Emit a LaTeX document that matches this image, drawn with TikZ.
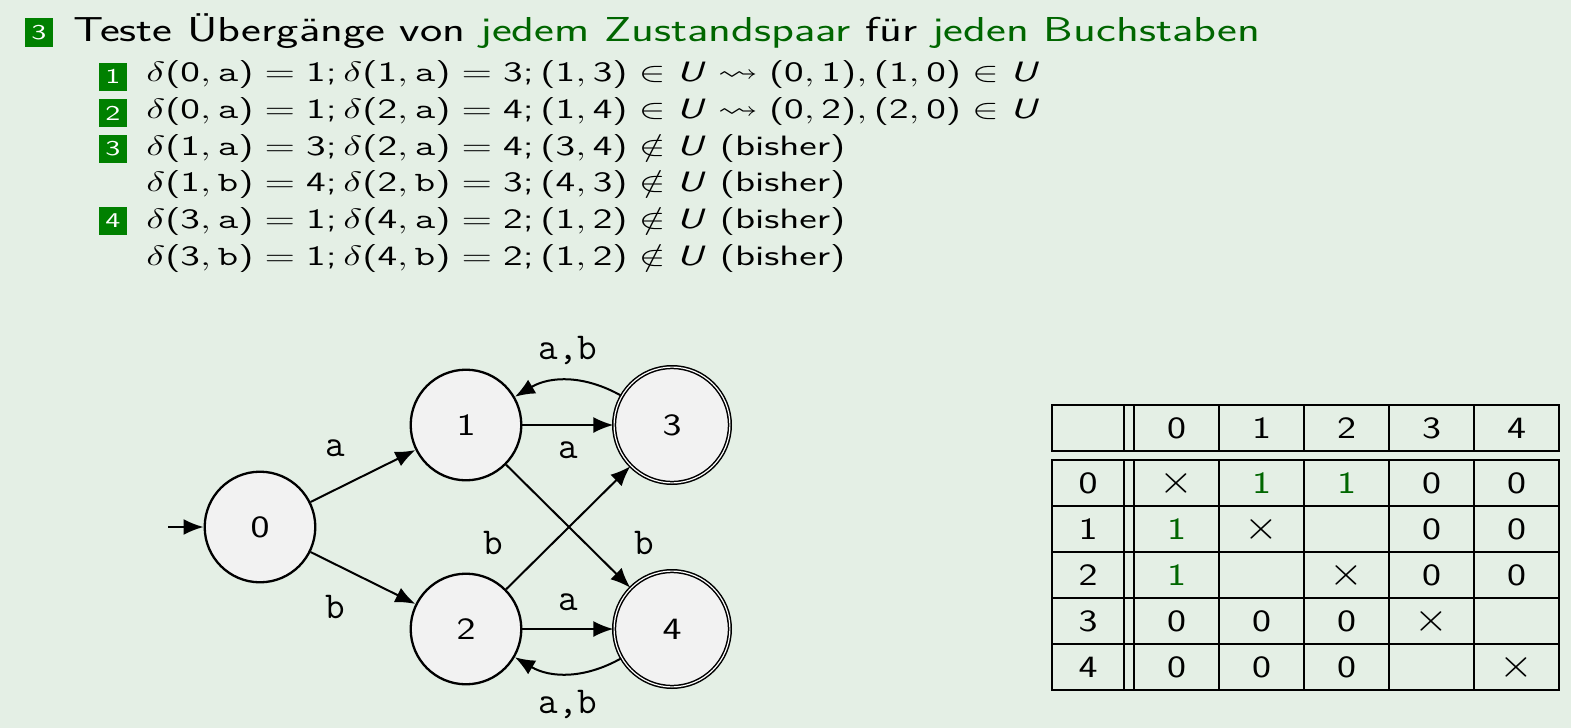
\RequirePackage{fix-cm}
\documentclass[tikz,border=0pt]{standalone}
\usepackage{amsmath,amssymb}
\usepackage{graphicx}
\usepackage{xcolor}
\usepackage{tikz}
\usetikzlibrary{arrows.meta}

\renewcommand{\familydefault}{\sfdefault}
\DeclareSymbolFont{operators}{OT1}{cmss}{m}{n}
\SetSymbolFont{operators}{bold}{OT1}{cmss}{bx}{n}
\DeclareMathAlphabet{\mathsfit}{OT1}{cmss}{m}{sl}
\newcommand{\setU}{\mathsfit{U}}
\newcommand{\chA}{\mathtt{a}}
\newcommand{\chB}{\mathtt{b}}
\newcommand{\breit}[1]{\scalebox{1.43}[1]{#1}}
\newcommand{\ziff}[1]{\scalebox{1.3}[1]{#1}}
\newcommand{\kreuz}{\scalebox{1.4}[1.3]{$\times$}}

\definecolor{hinter}{RGB}{228,239,229}
\definecolor{dgruen}{RGB}{0,102,0}
\definecolor{kasten}{RGB}{0,128,0}
\definecolor{zfill}{RGB}{242,242,242}

\begin{document}
\begin{tikzpicture}[x=0.5pt,y=-0.5pt,
    zustand/.style={circle,draw,line width=1.15pt,fill=zfill,minimum size=55.3pt,inner sep=0pt,
      font=\fontsize{15.5}{18}\selectfont},
    endzustand/.style={zustand,line width=0.75pt,double=white,double distance=0.6pt,minimum size=57.9pt},
    kante/.style={-{Latex[length=10pt,width=8pt]},line width=1pt},
    beschr/.style={font=\ttfamily\fontsize{19}{22}\selectfont,inner sep=0pt},
    nummer/.style={fill=kasten,text=white,minimum size=14pt,inner sep=0pt,
      font=\fontsize{10.5}{12}\selectfont},
    zeile/.style={anchor=base west,inner sep=0pt,font=\fontsize{14}{16}\selectfont},
    zelle/.style={inner sep=0pt,font=\fontsize{15.5}{18}\selectfont},
    rahmen/.style={line width=1pt},
    gitter/.style={line width=0.7pt}]
  \useasboundingbox[fill=hinter] (0,0) rectangle (1571,728);

  % Aufzaehlung
  \node[nummer,minimum height=14.5pt] (n0) at (39,32.5) {\breit{3}};
  \node[zeile,font=\fontsize{17.3}{20}\selectfont] (titel) at (73,41)
    {\scalebox{1.366}[1]{Teste Übergänge von \textcolor{dgruen}{jedem Zustandspaar} für \textcolor{dgruen}{jeden Buchstaben}}};
  \node[nummer] (n1) at (113,76.5) {\breit{1}};
  \node[nummer] (n2) at (113,113) {\breit{2}};
  \node[nummer] (n3) at (113,149) {\breit{3}};
  \node[nummer] (n4) at (113,221) {\breit{4}};
  \node[zeile] (z1) at (146,82) {\breit{$\delta(0,\chA)=1;\delta(1,\chA)=3;(1,3)\in\setU\leadsto(0,1),(1,0)\in\setU$}};
  \node[zeile] (z2) at (146,118.6) {\breit{$\delta(0,\chA)=1;\delta(2,\chA)=4;(1,4)\in\setU\leadsto(0,2),(2,0)\in\setU$}};
  \node[zeile] (z3) at (146,155.2) {\breit{$\delta(1,\chA)=3;\delta(2,\chA)=4;(3,4)\notin\setU$ (bisher)}};
  \node[zeile] (z4) at (146,191.8) {\breit{$\delta(1,\chB)=4;\delta(2,\chB)=3;(4,3)\notin\setU$ (bisher)}};
  \node[zeile] (z5) at (146,228.4) {\breit{$\delta(3,\chA)=1;\delta(4,\chA)=2;(1,2)\notin\setU$ (bisher)}};
  \node[zeile] (z6) at (146,265) {\breit{$\delta(3,\chB)=1;\delta(4,\chB)=2;(1,2)\notin\setU$ (bisher)}};

  % Automat
  \node[zustand] (q0) at (260,527) {\ziff{0}};
  \node[zustand] (q1) at (466,425) {\ziff{1}};
  \node[zustand] (q2) at (466,629) {\ziff{2}};
  \node[endzustand] (q3) at (672,425) {\ziff{3}};
  \node[endzustand] (q4) at (672,629) {\ziff{4}};
  \coordinate (start) at (168,527);

  \draw[kante] (start) -- (q0);
  \draw[kante] (q0) -- node[beschr,pos=.39,xshift=-8pt,yshift=16.5pt] (l01) {a} (q1);
  \draw[kante] (q0) -- node[beschr,pos=.40,xshift=-8.4pt,yshift=-17pt] (l02) {b} (q2);
  \draw[kante] (q1) -- node[beschr,yshift=-12.5pt] (l13) {a} (q3);
  \draw[kante] (q2) -- node[beschr,yshift=13.5pt] (l24) {a} (q4);
  \draw[kante] (q1) -- node[beschr,pos=.875,xshift=14.5pt,yshift=14.5pt] (l14) {b} (q4);
  \draw[kante] (q2) -- node[beschr,pos=.134,xshift=-14.8pt,yshift=14.9pt] (l23) {b} (q3);
  \draw[kante] (q3) to[bend right=30] node[beschr,anchor=base,yshift=10.5pt] (l31) {a,b} (q1);
  \draw[kante] (q4) to[bend left=30] node[beschr,anchor=base,yshift=-20pt] (l42) {a,b} (q2);

  % Tabelle
  \draw[rahmen] (1052,405) rectangle (1559,451);
  \draw[rahmen] (1052,460) rectangle (1559,690);
  \draw[gitter] (1124,405) -- (1124,451) (1124,460) -- (1124,690);
  \draw[gitter] (1134,405) -- (1134,451) (1134,460) -- (1134,690);
  \draw[gitter] (1219,405) -- (1219,451) (1219,460) -- (1219,690);
  \draw[gitter] (1304,405) -- (1304,451) (1304,460) -- (1304,690);
  \draw[gitter] (1389,405) -- (1389,451) (1389,460) -- (1389,690);
  \draw[gitter] (1474,405) -- (1474,451) (1474,460) -- (1474,690);
  \draw[gitter] (1052,506) -- (1559,506);
  \draw[gitter] (1052,552) -- (1559,552);
  \draw[gitter] (1052,598) -- (1559,598);
  \draw[gitter] (1052,644) -- (1559,644);

  \node[zelle] (h0) at (1176.5,428) {\ziff{0}};
  \node[zelle] (h1) at (1261.5,428) {\ziff{1}};
  \node[zelle] (h2) at (1346.5,428) {\ziff{2}};
  \node[zelle] (h3) at (1431.5,428) {\ziff{3}};
  \node[zelle] (h4) at (1516.5,428) {\ziff{4}};
  \node[zelle] (r0) at (1088,483) {\ziff{0}};
  \node[zelle] (r1) at (1088,529) {\ziff{1}};
  \node[zelle] (r2) at (1088,575) {\ziff{2}};
  \node[zelle] (r3) at (1088,621) {\ziff{3}};
  \node[zelle] (r4) at (1088,667) {\ziff{4}};

  \node[zelle] (c00) at (1176.5,483) {\kreuz};
  \node[zelle,text=dgruen] (c01) at (1261.5,483) {\ziff{1}};
  \node[zelle,text=dgruen] (c02) at (1346.5,483) {\ziff{1}};
  \node[zelle] (c03) at (1431.5,483) {\ziff{0}};
  \node[zelle] (c04) at (1516.5,483) {\ziff{0}};
  \node[zelle,text=dgruen] (c10) at (1176.5,529) {\ziff{1}};
  \node[zelle] (c11) at (1261.5,529) {\kreuz};
  \node[zelle] (c13) at (1431.5,529) {\ziff{0}};
  \node[zelle] (c14) at (1516.5,529) {\ziff{0}};
  \node[zelle,text=dgruen] (c20) at (1176.5,575) {\ziff{1}};
  \node[zelle] (c22) at (1346.5,575) {\kreuz};
  \node[zelle] (c23) at (1431.5,575) {\ziff{0}};
  \node[zelle] (c24) at (1516.5,575) {\ziff{0}};
  \node[zelle] (c30) at (1176.5,621) {\ziff{0}};
  \node[zelle] (c31) at (1261.5,621) {\ziff{0}};
  \node[zelle] (c32) at (1346.5,621) {\ziff{0}};
  \node[zelle] (c33) at (1431.5,621) {\kreuz};
  \node[zelle] (c40) at (1176.5,667) {\ziff{0}};
  \node[zelle] (c41) at (1261.5,667) {\ziff{0}};
  \node[zelle] (c42) at (1346.5,667) {\ziff{0}};
  \node[zelle] (c44) at (1516.5,667) {\kreuz};
\end{tikzpicture}
\end{document}
